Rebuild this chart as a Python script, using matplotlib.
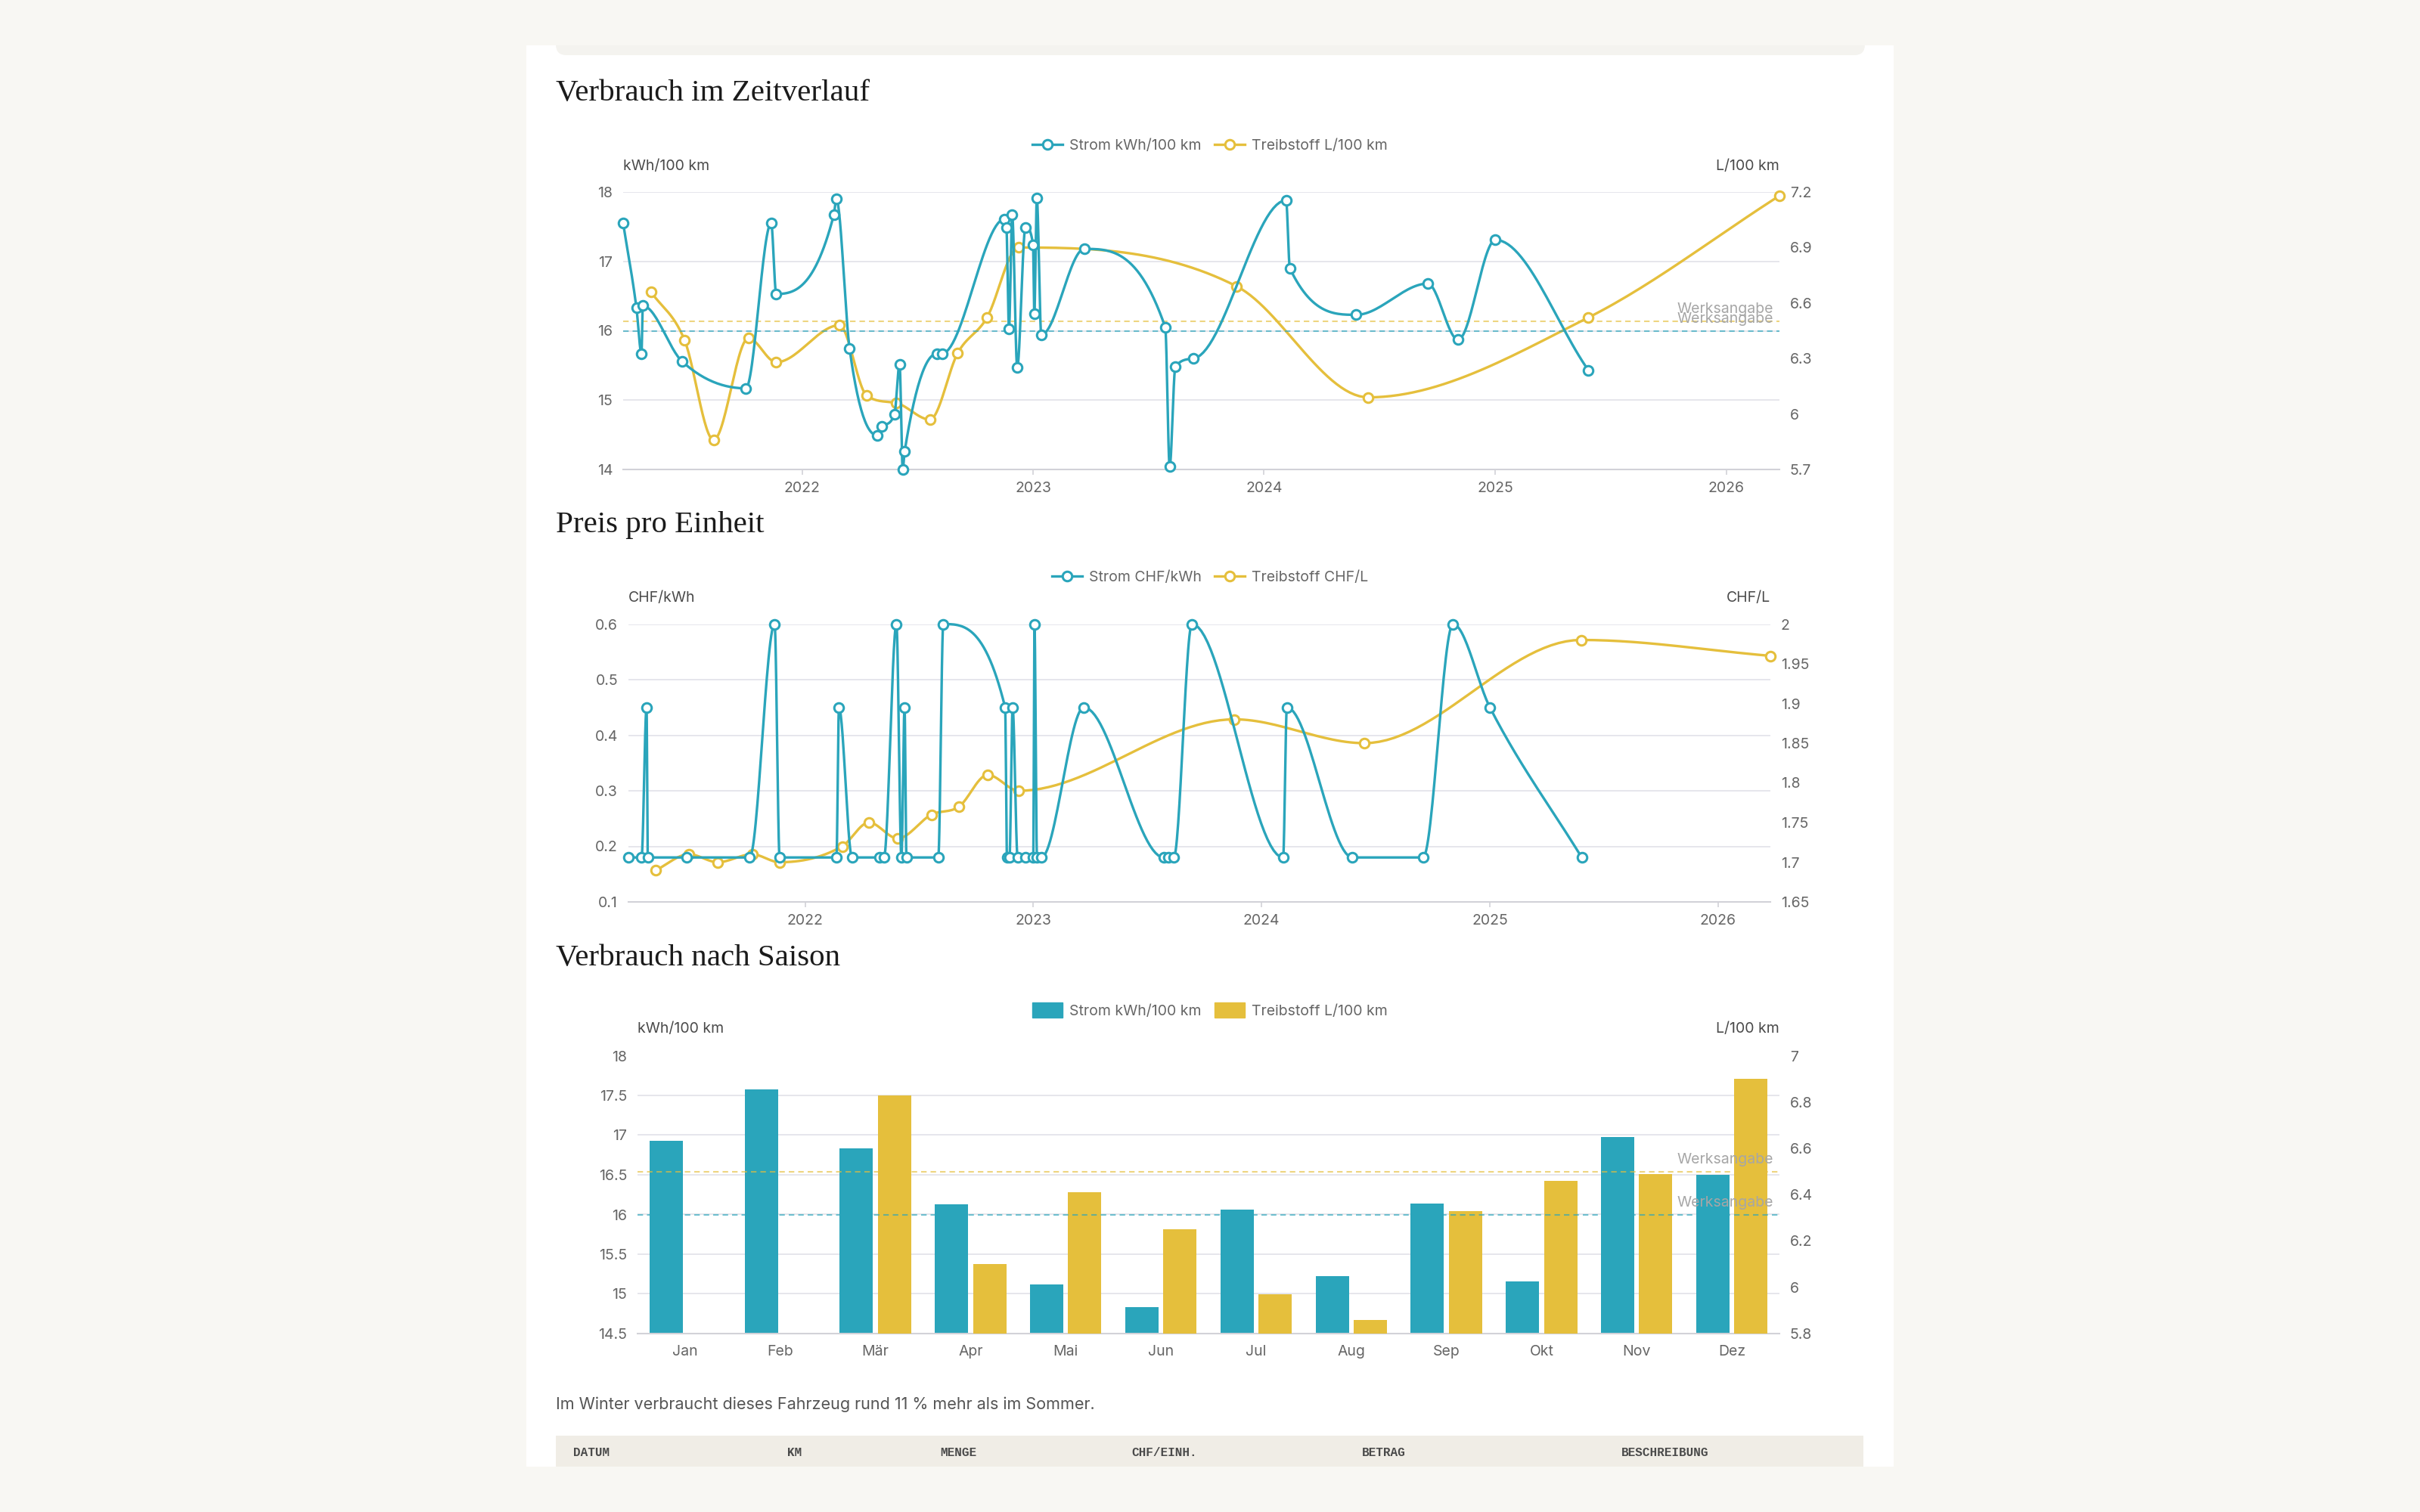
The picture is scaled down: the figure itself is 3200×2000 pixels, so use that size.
import numpy as np
import matplotlib
matplotlib.use('Agg')
import matplotlib.pyplot as plt
import matplotlib.dates as mdates
from matplotlib.patches import Rectangle, FancyBboxPatch, Patch
from matplotlib.lines import Line2D
from matplotlib.ticker import FuncFormatter

# --- data ---
strom_datum = ["2021-03-24", "2021-04-14", "2021-04-22", "2021-04-24", "2021-06-25", "2021-10-04",
               "2021-11-13", "2021-11-21", "2022-02-20", "2022-02-24", "2022-03-17", "2022-04-30",
               "2022-05-07", "2022-05-27", "2022-06-04", "2022-06-09", "2022-06-12", "2022-08-02",
               "2022-08-10", "2022-11-17", "2022-11-20", "2022-11-24", "2022-11-29", "2022-12-07",
               "2022-12-20", "2023-01-01", "2023-01-03", "2023-01-07", "2023-01-14", "2023-03-23",
               "2023-07-29", "2023-08-05", "2023-08-14", "2023-09-12", "2024-02-05", "2024-02-11",
               "2024-05-26", "2024-09-16", "2024-11-03", "2025-01-01", "2025-05-28"]
strom_verbrauch = [17.55, 16.33, 15.67, 16.36, 15.56, 15.17, 17.55, 16.53, 17.67, 17.90, 15.74, 14.49,
                   14.62, 14.80, 15.52, 14.00, 14.26, 15.67, 15.67, 17.61, 17.49, 16.03, 17.67, 15.47,
                   17.49, 17.24, 16.25, 17.91, 15.94, 17.18, 16.05, 14.04, 15.48, 15.60, 17.88, 16.90,
                   16.23, 16.68, 15.87, 17.31, 15.43]
strom_preis = [0.18, 0.18, 0.45, 0.18, 0.18, 0.18, 0.60, 0.18, 0.18, 0.45, 0.18, 0.18,
               0.18, 0.60, 0.18, 0.45, 0.18, 0.18, 0.60, 0.45, 0.18, 0.18, 0.45, 0.18,
               0.18, 0.18, 0.60, 0.18, 0.18, 0.45, 0.18, 0.18, 0.18, 0.60, 0.18, 0.45,
               0.18, 0.18, 0.60, 0.45, 0.18]

treibstoff_datum = ["2021-05-07", "2021-06-29", "2021-08-14", "2021-10-08", "2021-11-21", "2022-03-01",
                    "2022-04-13", "2022-05-29", "2022-07-22", "2022-09-04", "2022-10-20", "2022-12-09",
                    "2023-11-19", "2024-06-14", "2025-05-27", "2026-03-26"]
treibstoff_verbrauch = [6.66, 6.40, 5.86, 6.41, 6.28, 6.48, 6.10, 6.06, 5.97, 6.33, 6.52, 6.90,
                        6.69, 6.09, 6.52, 7.18]
treibstoff_preis = [1.69, 1.71, 1.70, 1.71, 1.70, 1.72, 1.75, 1.73, 1.76, 1.77, 1.81, 1.79,
                    1.88, 1.85, 1.98, 1.96]

werk_strom = 16.0
werk_treibstoff = 6.5

monate = ["Jan", "Feb", "Mär", "Apr", "Mai", "Jun", "Jul", "Aug", "Sep", "Okt", "Nov", "Dez"]
saison_strom = [16.93, 17.58, 16.83, 16.13, 15.12, 14.83, 16.06, 15.22, 16.14, 15.16, 16.98, 16.50]
saison_treibstoff = [np.nan, np.nan, 6.83, 6.10, 6.41, 6.25, 5.97, 5.86, 6.33, 6.46, 6.49, 6.90]

tabelle_spalten = ["DATUM", "KM", "MENGE", "CHF/EINH.", "BETRAG", "BESCHREIBUNG"]

# --- style ---
BLUE = '#2aa5bb'
YELLOW = '#e5bf3c'
BG = '#f8f7f3'
GRID = '#e6e6ec'
AXIS = '#d2d2d8'
TICK = '#666666'
FS = 14

plt.rcParams['font.family'] = ['Inter', 'DejaVu Sans']

W, H = 3200, 2000
fig = plt.figure(figsize=(32, 20), dpi=100)
fig.patch.set_facecolor(BG)


def fx(px):
    return px / W


def fy(py):
    return 1 - py / H


def fmt(v, pos):
    return f'{round(v, 2):g}'


def monotone(x, y, n=30):
    # chart.js style monotone cubic
    x = np.asarray(x, float)
    y = np.asarray(y, float)
    d = np.diff(y) / np.diff(x)
    m = np.empty_like(y)
    m[0], m[-1] = d[0], d[-1]
    for k in range(1, len(y) - 1):
        m[k] = 0 if d[k - 1] * d[k] <= 0 else (d[k - 1] + d[k]) / 2
    for k in range(len(d)):
        if d[k] == 0:
            m[k] = m[k + 1] = 0
            continue
        a, b = m[k] / d[k], m[k + 1] / d[k]
        s = a * a + b * b
        if s > 9:
            t = 3 / np.sqrt(s)
            m[k], m[k + 1] = t * a * d[k], t * b * d[k]
    t = np.linspace(0, 1, n)
    h00 = 2 * t**3 - 3 * t**2 + 1
    h10 = t**3 - 2 * t**2 + t
    h01 = -2 * t**3 + 3 * t**2
    h11 = t**3 - t**2
    xs, ys = [], []
    for k in range(len(d)):
        h = x[k + 1] - x[k]
        xs.append(x[k] + t * h)
        ys.append(h00 * y[k] + h10 * h * m[k] + h01 * y[k + 1] + h11 * h * m[k + 1])
    return np.concatenate(xs), np.concatenate(ys)


def make_axes(l, t, r, b, lim_l, ticks_l, lim_r, ticks_r):
    ax = fig.add_axes([fx(l), fy(b), (r - l) / W, (b - t) / H])
    ax.patch.set_visible(False)
    ax.set_ylim(lim_l)
    ax.set_yticks(ticks_l)
    ax.yaxis.set_major_formatter(FuncFormatter(fmt))
    ax.grid(axis='y', color=GRID, lw=1.4)
    ax.set_axisbelow(True)
    for s in ['left', 'right', 'top']:
        ax.spines[s].set_visible(False)
    ax.spines['bottom'].set_color(AXIS)
    ax.spines['bottom'].set_linewidth(1.5)
    ax.tick_params(axis='y', length=0, pad=10, labelsize=FS, labelcolor=TICK)
    ax.tick_params(axis='x', labelsize=FS, labelcolor=TICK, color=AXIS, width=1.2)

    ax_r = ax.twinx()
    ax_r.set_ylim(lim_r)
    ax_r.set_yticks(ticks_r)
    ax_r.yaxis.set_major_formatter(FuncFormatter(fmt))
    for s in ax_r.spines.values():
        s.set_visible(False)
    ax_r.tick_params(axis='y', length=0, pad=10, labelsize=FS, labelcolor=TICK)

    ax_top = ax.twinx()
    ax_top.set_ylim(lim_l)
    ax_top.axis('off')
    return ax, ax_r, ax_top


def werk(axx, y, color):
    axx.axhline(y, color=color, lw=1.5, ls=(0, (3.5, 2.5)), alpha=0.65)
    axx.annotate('Werksangabe', xy=(1, y), xycoords=axx.get_yaxis_transform(),
                 xytext=(-5.8, 11.5), textcoords='offset points', ha='right', va='center',
                 color='#a6a6a6', fontsize=FS)


def line(axx, dates, vals, color):
    x = mdates.date2num(np.array(dates, dtype='datetime64[D]'))
    xs, ys = monotone(x, vals)
    axx.plot(xs, ys, color=color, lw=2.4, clip_on=False, zorder=2)
    axx.plot(x, vals, 'o', ms=9, mfc='white', mec=color, mew=2.2, clip_on=False, zorder=3)


def line_handles():
    return [Line2D([], [], color=BLUE, lw=2.4, marker='o', ms=9, mfc='white', mec=BLUE, mew=2.2),
            Line2D([], [], color=YELLOW, lw=2.4, marker='o', ms=9, mfc='white', mec=YELLOW, mew=2.2)]


def add_legend(handles, labels, y, **kw):
    fig.legend(handles, labels, loc='center', bbox_to_anchor=(fx(1600), fy(y)), ncol=2,
               frameon=False, fontsize=FS, handlelength=2.06, handletextpad=0.46,
               columnspacing=0.9, labelcolor=TICK, **kw)


# --- page background ---
fig.add_artist(Rectangle((fx(696), fy(1940)), (2504 - 696) / W, (1940 - 60) / H,
                         transform=fig.transFigure, fc='white', ec='none', zorder=-3))
fig.add_artist(FancyBboxPatch((fx(735), fy(73)), (2466 - 735) / W, 40 / H,
                              boxstyle='round,pad=0,rounding_size=%f' % (14 / W),
                              mutation_aspect=W / H, transform=fig.transFigure,
                              fc='#f4f3ef', ec='none', zorder=-2))
fig.add_artist(Rectangle((0, fy(60)), 1, 60 / H, transform=fig.transFigure,
                         fc=BG, ec='none', zorder=-1))

title_kw = dict(family=['Liberation Serif', 'DejaVu Serif'], fontsize=29.5, color='#1b1b1b', va='baseline')
axt_kw = dict(fontsize=FS, color='#4a4a4a', va='center')

x_min = min(np.datetime64(strom_datum[0]), np.datetime64(treibstoff_datum[0]))
x_max = max(np.datetime64(strom_datum[-1]), np.datetime64(treibstoff_datum[-1]))

# --- chart 1: Verbrauch im Zeitverlauf ---
fig.text(fx(735), fy(133), 'Verbrauch im Zeitverlauf', **title_kw)
ax1, ax1r, ax1t = make_axes(824, 254, 2353, 621, (14, 18), [14, 15, 16, 17, 18],
                            (5.7, 7.2), [5.7, 6.0, 6.3, 6.6, 6.9, 7.2])
ax1.set_xlim(mdates.date2num(x_min), mdates.date2num(x_max))
ax1.xaxis.set_major_locator(mdates.YearLocator())
ax1.xaxis.set_major_formatter(mdates.DateFormatter('%Y'))
ax1.tick_params(axis='x', length=5, pad=6.5)
werk(ax1r, werk_treibstoff, YELLOW)
werk(ax1t, werk_strom, BLUE)
line(ax1r, treibstoff_datum, treibstoff_verbrauch, YELLOW)
line(ax1t, strom_datum, strom_verbrauch, BLUE)
add_legend(line_handles(), ['Strom kWh/100 km', 'Treibstoff L/100 km'], 193)
fig.text(fx(824), fy(220), 'kWh/100 km', ha='left', **axt_kw)
fig.text(fx(2353), fy(220), 'L/100 km', ha='right', **axt_kw)

# --- chart 2: Preis pro Einheit ---
fig.text(fx(735), fy(704), 'Preis pro Einheit', **title_kw)
ax2, ax2r, ax2t = make_axes(831, 825.5, 2341, 1193, (0.1, 0.6), [0.1, 0.2, 0.3, 0.4, 0.5, 0.6],
                            (1.65, 2.0), [1.65, 1.7, 1.75, 1.8, 1.85, 1.9, 1.95, 2.0])
ax2.set_xlim(mdates.date2num(x_min), mdates.date2num(x_max))
ax2.xaxis.set_major_locator(mdates.YearLocator())
ax2.xaxis.set_major_formatter(mdates.DateFormatter('%Y'))
ax2.tick_params(axis='x', length=5, pad=6.5)
line(ax2r, treibstoff_datum, treibstoff_preis, YELLOW)
line(ax2t, strom_datum, strom_preis, BLUE)
add_legend(line_handles(), ['Strom CHF/kWh', 'Treibstoff CHF/L'], 764)
fig.text(fx(831), fy(791), 'CHF/kWh', ha='left', **axt_kw)
fig.text(fx(2341), fy(791), 'CHF/L', ha='right', **axt_kw)

# --- chart 3: Verbrauch nach Saison ---
fig.text(fx(735), fy(1277), 'Verbrauch nach Saison', **title_kw)
ax3, ax3r, ax3t = make_axes(843, 1396.5, 2353, 1764, (14.5, 18), list(np.arange(14.5, 18.01, 0.5)),
                            (5.8, 7.0), [5.8, 6.0, 6.2, 6.4, 6.6, 6.8, 7.0])
idx = np.arange(len(monate))
ax3.set_xlim(-0.5, len(monate) - 0.5)
ax3.set_xticks(idx, monate)
ax3.tick_params(axis='x', length=0, pad=11)
ax3.bar(idx - 0.2, saison_strom, width=0.35, color=BLUE, zorder=2)
ax3r.bar(idx + 0.2, saison_treibstoff, width=0.35, color=YELLOW, zorder=2)
werk(ax3r, werk_treibstoff, YELLOW)
werk(ax3t, werk_strom, BLUE)
add_legend([Patch(color=BLUE), Patch(color=YELLOW)],
           ['Strom kWh/100 km', 'Treibstoff L/100 km'], 1336.5, handleheight=1.2)
fig.text(fx(843), fy(1361), 'kWh/100 km', ha='left', **axt_kw)
fig.text(fx(2353), fy(1361), 'L/100 km', ha='right', **axt_kw)

# --- note and table header ---
fig.text(fx(735), fy(1858), 'Im Winter verbraucht dieses Fahrzeug rund 11 % mehr als im Sommer.',
         fontsize=15.5, color='#555555', va='center')
fig.add_artist(Rectangle((fx(735), fy(1940)), (2464 - 735) / W, 41 / H,
                         transform=fig.transFigure, fc='#f0ede6', ec='none', zorder=-1))
spalten_x = [758, 1041, 1243, 1496, 1801, 2144]
for name, px in zip(tabelle_spalten, spalten_x):
    fig.text(fx(px), fy(1921), name, family=['Liberation Mono', 'DejaVu Sans Mono'],
             fontsize=11.5, fontweight='bold', color='#4a4a4a', va='center')

fig.savefig('out.png', dpi=100, facecolor=fig.get_facecolor())
